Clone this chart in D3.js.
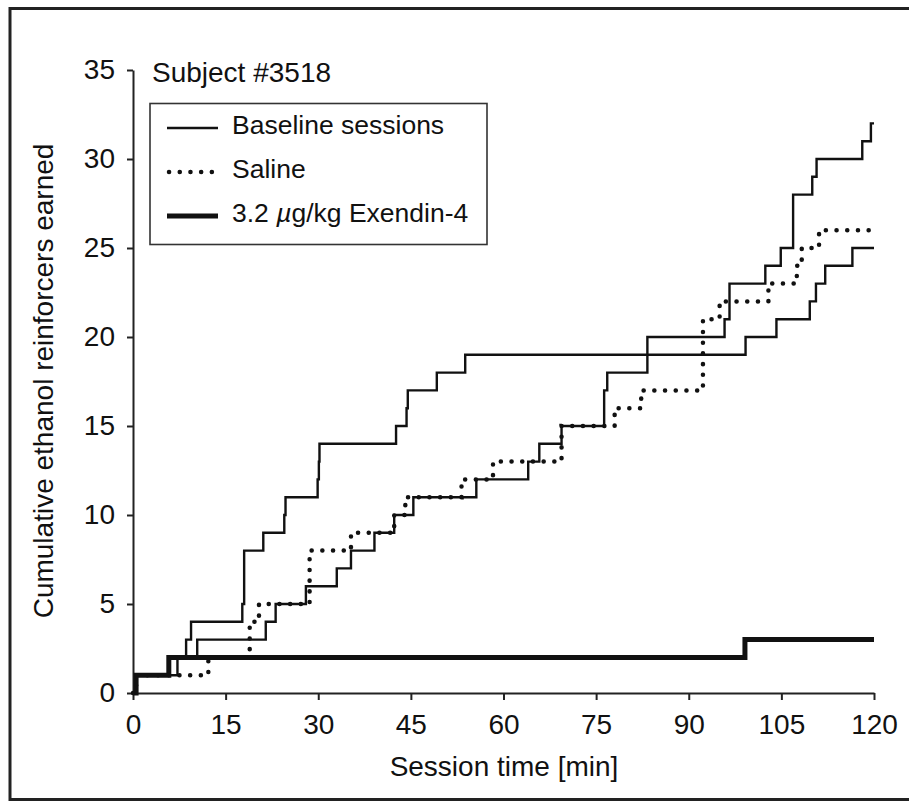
<!DOCTYPE html>
<html>
<head>
<meta charset="utf-8">
<script src="https://cdn.jsdelivr.net/npm/d3@7"></script>
<style>
  body { margin: 0; background: #fff; }
  text { font-family: "Liberation Sans", Arial, Helvetica, sans-serif; fill: #111; }
  .axis path, .axis line { stroke: #222; stroke-width: 2; }
</style>
</head>
<body>
<div id="chart"></div>
<script>
const width = 909,
    height = 802;

// session time (min) at which each cumulative reinforcer was earned
const baselineA = [0.5, 5.8, 8.6, 9.4, 17.7, 18.0, 18.0, 18.0, 21.1, 24.5, 24.7, 29.9, 30.1, 30.2,
    42.6, 44.3, 44.5, 49.2, 53.8, 99.2, 104.2, 109.6, 110.6, 112.1, 116.5];
const baselineB = [0.5, 7.2, 10.4, 21.5, 23.1, 28.0, 33.0, 35.3, 39.1, 42.3, 45.4, 55.6, 64.0, 65.8,
    69.4, 76.3, 76.3, 76.8, 83.3, 83.3, 95.8, 96.6, 96.6, 102.4, 104.9, 106.9, 106.9, 106.9,
    110.0, 110.7, 118.1, 119.5];
const saline = [0.5, 12.2, 18.9, 18.9, 20.4, 28.6, 28.6, 28.6, 35.3, 42.3, 44.1, 53.2, 58.3,
    69.4, 69.4, 78.0, 82.3, 92.3, 92.3, 92.3, 92.3, 95.0, 102.9, 107.5, 108.3, 111.1];
const exendin = [0.5, 5.8, 99.1];

const sessionEnd = 120;
const xTicks = [0, 15, 30, 45, 60, 75, 90, 105, 120];
const yTicks = [0, 5, 10, 15, 20, 25, 30, 35];
const legendLabels = ['Baseline sessions', 'Saline', '3.2 µg/kg Exendin-4'];

const svg = d3.select('#chart').append('svg')
    .attr('width', width)
    .attr('height', height);

// outer frame
svg.append('rect')
    .attr('x', 10).attr('y', 8.5)
    .attr('width', 920).attr('height', 791)
    .attr('fill', 'none')
    .attr('stroke', '#222')
    .attr('stroke-width', 3);

const x = d3.scaleLinear().domain([0, 120]).range([133, 874]);
const y = d3.scaleLinear().domain([0, 35]).range([693, 70]);

svg.append('g')
    .attr('class', 'axis')
    .attr('transform', 'translate(0,' + y(0) + ')')
    .call(d3.axisBottom(x).tickValues(xTicks).tickSize(7).tickSizeOuter(0).tickPadding(14))
    .call(g => g.selectAll('text').style('font-size', '28px'));

svg.append('g')
    .attr('class', 'axis')
    .attr('transform', 'translate(' + x(0) + ',0)')
    .call(d3.axisLeft(y).tickValues(yTicks).tickSize(6).tickSizeOuter(0).tickPadding(12))
    .call(g => g.selectAll('text').style('font-size', '28px'));

svg.append('text')
    .attr('x', 504).attr('y', 776)
    .attr('text-anchor', 'middle')
    .style('font-size', '28px')
    .text('Session time [min]');

svg.append('text')
    .attr('transform', 'translate(53,381) rotate(-90)')
    .attr('text-anchor', 'middle')
    .style('font-size', '28px')
    .text('Cumulative ethanol reinforcers earned');

svg.append('text')
    .attr('x', 152).attr('y', 82)
    .style('font-size', '28px')
    .text('Subject #3518');

// turn event times into cumulative step points
function toSteps(times) {
    let pts = [[0, 0]];
    times.forEach((t, i) => pts.push([t, i + 1]));
    pts.push([sessionEnd, times.length]);
    return pts;
}

const line = d3.line()
    .x(d => x(d[0]))
    .y(d => y(d[1]))
    .curve(d3.curveStepAfter);

const styles = {
    thin: { w: 2.4, dash: null, cap: 'butt' },
    dot: { w: 4.5, dash: '0.1,10.6', cap: 'round' },
    thick: { w: 5, dash: null, cap: 'butt' }
};

const series = [
    { data: baselineA, s: styles.thin },
    { data: baselineB, s: styles.thin },
    { data: saline, s: styles.dot },
    { data: exendin, s: styles.thick }
];

svg.append('g')
    .selectAll('path')
    .data(series)
    .enter().append('path')
    .attr('d', d => line(toSteps(d.data)))
    .attr('fill', 'none')
    .attr('stroke', '#111')
    .attr('stroke-width', d => d.s.w)
    .attr('stroke-dasharray', d => d.s.dash)
    .attr('stroke-linecap', d => d.s.cap)
    .attr('stroke-linejoin', 'miter');

// legend
const legend = svg.append('g');
legend.append('rect')
    .attr('x', 150).attr('y', 103.5)
    .attr('width', 337).attr('height', 141)
    .attr('fill', '#fff')
    .attr('stroke', '#333')
    .attr('stroke-width', 1.6);

const legendStyles = [styles.thin, styles.dot, styles.thick];
const rows = legend.selectAll('g.row')
    .data(legendLabels)
    .enter().append('g')
    .attr('class', 'row')
    .attr('transform', (d, i) => 'translate(0,' + (128 + i * 44) + ')');

rows.append('line')
    .attr('x1', (d, i) => i === 1 ? 169 : 167)
    .attr('x2', 218)
    .attr('stroke', '#111')
    .attr('stroke-width', (d, i) => legendStyles[i].w)
    .attr('stroke-dasharray', (d, i) => legendStyles[i].dash)
    .attr('stroke-linecap', (d, i) => legendStyles[i].cap);

rows.append('text')
    .attr('x', 232).attr('y', 6)
    .style('font-size', '26.5px')
    .each(function(d) {
        const t = d3.select(this);
        if (d.indexOf('µ') >= 0) {
            const parts = d.split('µ');
            t.append('tspan').text(parts[0]);
            t.append('tspan').style('font-style', 'italic').text('µ');
            t.append('tspan').text(parts[1]);
        } else {
            t.text(d);
        }
    });
</script>
</body>
</html>
